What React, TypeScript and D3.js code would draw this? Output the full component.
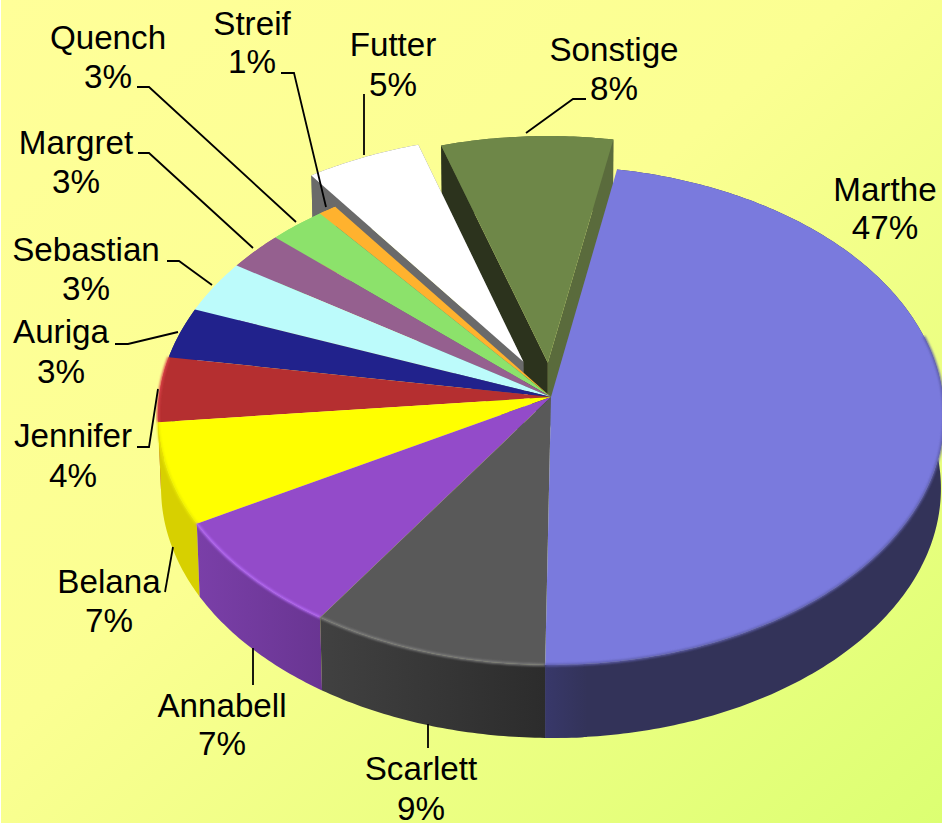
import React from "react";
import * as d3 from "d3";

const W = 942, H = 823;

const names = ["Marthe", "Scarlett", "Annabell", "Belana", "Jennifer", "Auriga", "Sebastian", "Margret", "Quench", "Streif", "Futter", "Sonstige"];
const values = [47.33, 9.1, 7.5, 6.57, 4.2, 3.3, 3.4, 2.5, 2.5, 0.8, 5.15, 7.65];
const percentLabels = ["47%", "9%", "7%", "7%", "4%", "3%", "3%", "3%", "3%", "1%", "5%", "8%"];
const explode = [0, 0, 0, 0, 0, 0, 0, 0, 0, 0, 0.16, 0.14];
const topColors = ["#7a7add", "#595959", "#934bc9", "#ffff00", "#b52f30", "#21228c", "#bcfbfb", "#95608f", "#8ce26b", "#ffb22e", "#ffffff", "#6e8748"];
const wallFrom = ["#38386a", "#414141", "#7a3fa8", "#d7d000", "#b52f30", "#21228c", "#bcfbfb", "#95608f", "#8ce26b", "#ffb22e", "#6a6a6a", "#5a6b3c"];
const wallTo = ["#333359", "#2c2c2c", "#693592", "#d7d000", "#b52f30", "#21228c", "#bcfbfb", "#95608f", "#8ce26b", "#ffb22e", "#6a6a6a", "#5a6b3c"];
const radialWallLeft = ["", "", "", "", "", "", "", "", "", "", "#6a6a6a", "#2c331d"];
const rimColors = ["#5f5fac", "#808080", "#b469f7", "#ecec00", "#da4046", "", "", "", "", "", "", ""];

// Label layout: centre x, first baseline, second baseline
const labelX = [885, 421, 222, 109, 73, 61, 86, 76, 108, 252, 393, 614];
const labelY1 = [201, 780, 717, 593, 447, 343, 261, 154, 49, 35, 56, 61];
const labelY2 = [239, 820, 755, 632, 487, 383, 300, 193, 88, 73, 96, 100];
const leaders: [number, number][][] = [
  [],
  [[428, 724], [428, 748]],
  [[253, 648], [253, 685]],
  [[173, 547], [165, 592]],
  [[158, 389], [149, 447], [137, 447]],
  [[178, 332], [128, 344], [115, 344]],
  [[212, 285], [179, 261], [167, 261]],
  [[253, 248], [149, 153], [138, 153]],
  [[296, 222], [149, 87], [137, 87]],
  [[326, 207], [294, 73], [281, 73]],
  [[364, 155], [364, 94]],
  [[526, 133], [573, 99], [586, 99]],
];

// Perspective of the tilted disc
const apexX = 551, apexY = 397, rx = 392, ry = 248.2, persp = 0.0737, depth = 73, shrink = 0.992;

const project = (u: number, v: number): [number, number] => {
  const w = 1 - persp * v;
  return [apexX + (rx * u) / w, apexY + (ry * v) / w];
};
const lower = ([x, y]: [number, number]): [number, number] => [apexX + (x - apexX) * shrink, y + depth];

const pie = d3.pie<number>().sort(null).startAngle((10.4 * Math.PI) / 180).endAngle(((10.4 + 360) * Math.PI) / 180);
const arcs = pie(values);
const line = d3.line<[number, number]>();
const poly = (pts: [number, number][]) => line(pts)! + "Z";

const slices = arcs.map((a, i) => {
  const mid = (a.startAngle + a.endAngle) / 2;
  const ou = Math.sin(mid) * explode[i], ov = -Math.cos(mid) * explode[i];
  const n = Math.max(4, Math.ceil((a.endAngle - a.startAngle) * 80));
  const angles = d3.range(n + 1).map((k) => a.startAngle + ((a.endAngle - a.startAngle) * k) / n);
  const rim = angles.map((t) => project(Math.sin(t) + ou, -Math.cos(t) + ov));
  // highlight only on the front-facing part of the rim
  const frontRim = angles.filter((t) => -Math.cos(t) > -0.25).map((t) => project(Math.sin(t), -Math.cos(t)));
  const apex = project(ou, ov);
  return { i, rim, frontRim, apex };
});

export default function App() {
  const drawOrder = [...slices].reverse();
  return (
    <svg width={W} height={H} viewBox={`0 0 ${W} ${H}`} style={{ position: "absolute", left: 0, top: 0, display: "block" }} fontFamily="'Liberation Sans', Arial, sans-serif">
      <defs>
        <linearGradient id="bg" x1="0" y1="0" x2="1" y2="1">
          <stop offset="0" stopColor="#ffff99" />
          <stop offset="0.45" stopColor="#fbff92" />
          <stop offset="1" stopColor="#dcff72" />
        </linearGradient>
        <filter id="soft" x="-10%" y="-10%" width="120%" height="120%">
          <feGaussianBlur stdDeviation="1.1" />
        </filter>
        {slices.map((s) => (
          <linearGradient key={s.i} id={`wall${s.i}`} x1="0" y1="0" x2="1" y2="0">
            <stop offset="0" stopColor={s.i === 0 ? wallTo[0] : wallFrom[s.i]} />
            <stop offset="1" stopColor={wallTo[s.i]} />
          </linearGradient>
        ))}
        <linearGradient id="wallMartheEdge" x1="0" y1="0" x2="1" y2="0">
          <stop offset="0" stopColor={wallFrom[0]} />
          <stop offset="1" stopColor={wallTo[0]} />
        </linearGradient>
      </defs>
      <rect x={1} y={0} width={W - 1} height={H} fill="url(#bg)" />
      {drawOrder.map((s) => {
        const { i, rim, frontRim, apex } = s;
        const first = rim[0], last = rim[rim.length - 1];
        const outer = [...rim, ...[...rim].reverse().map(lower)];
        const edge = rim.filter((p) => p[0] < apexX + 40);
        return (
          <g key={i}>
            <path d={poly(outer)} fill={`url(#wall${i})`} />
            {i === 0 && <path d={poly([...edge, ...[...edge].reverse().map(lower)])} fill="url(#wallMartheEdge)" />}
            {explode[i] > 0 && (
              <>
                <path d={poly([apex, last, lower(last), lower(apex)])} fill={wallFrom[i]} />
                <path d={poly([apex, first, lower(first), lower(apex)])} fill={radialWallLeft[i]} />
              </>
            )}
            <path d={poly([apex, ...rim])} fill={topColors[i]} />
            {rimColors[i] && frontRim.length > 1 && (
              <path d={line(frontRim)!} fill="none" stroke={rimColors[i]} strokeWidth={2.4} filter="url(#soft)" />
            )}
          </g>
        );
      })}
      {leaders.map((pts, i) =>
        pts.length ? <path key={i} d={line(pts)!} fill="none" stroke="#000" strokeWidth={1.8} /> : null
      )}
      {names.map((name, i) => (
        <g key={name} fontSize={33.2} fill="#000" textAnchor="middle">
          <text x={labelX[i]} y={labelY1[i]}>{name}</text>
          <text x={labelX[i]} y={labelY2[i]}>{percentLabels[i]}</text>
        </g>
      ))}
    </svg>
  );
}
